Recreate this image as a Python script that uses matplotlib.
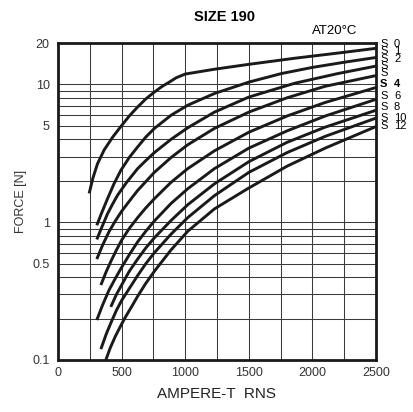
import numpy as np
import matplotlib
matplotlib.use("Agg")
import matplotlib.pyplot as plt
from matplotlib.ticker import FixedLocator, NullFormatter

plt.rcParams['font.family'] = ['Liberation Sans', 'DejaVu Sans']

# curves: ampere-turns vs force [N]
s0_x = [245, 275, 310, 363, 430, 494, 560, 625, 690, 757, 820, 875, 930, 1000, 1230, 1500, 1860, 2200, 2500]
s0_f = [1.62, 2.1, 2.65, 3.35, 4.15, 4.95, 5.9, 6.85, 7.85, 8.8, 9.7, 10.4, 11.2, 11.9, 12.9, 14.0, 15.5, 16.9, 18.3]
s1_x = [305, 340, 389, 440, 494, 560, 626, 690, 757, 889, 1020, 1230, 1500, 1756, 2000, 2250, 2500]
s1_f = [0.95, 1.15, 1.48, 1.9, 2.38, 2.95, 3.52, 4.15, 4.79, 5.98, 7.07, 8.6, 10.4, 12.0, 13.3, 14.5, 15.7]
s2_x = [305, 340, 389, 430, 470, 540, 626, 690, 757, 889, 1020, 1230, 1500, 1860, 2200, 2500]
s2_f = [0.75, 0.9, 1.15, 1.36, 1.58, 1.95, 2.45, 2.8, 3.2, 4.0, 4.85, 6.3, 8.1, 10.2, 12.0, 13.6]
s3_x = [305, 350, 400, 450, 500, 560, 626, 690, 757, 889, 1020, 1230, 1500, 1800, 2100, 2500]
s3_f = [0.54, 0.68, 0.85, 1.02, 1.2, 1.42, 1.7, 1.97, 2.3, 2.95, 3.65, 4.8, 6.3, 8.0, 9.7, 11.6]
s4_x = [337, 380, 420, 460, 500, 560, 626, 690, 757, 889, 1020, 1230, 1500, 1800, 2100, 2500]
s4_f = [0.35, 0.44, 0.53, 0.63, 0.74, 0.9, 1.08, 1.27, 1.48, 1.95, 2.45, 3.3, 4.5, 5.9, 7.4, 9.5]
s6_x = [305, 350, 400, 450, 500, 560, 626, 690, 757, 889, 1020, 1230, 1500, 1800, 2100, 2500]
s6_f = [0.195, 0.25, 0.32, 0.39, 0.47, 0.58, 0.72, 0.86, 1.02, 1.37, 1.75, 2.45, 3.45, 4.6, 5.9, 7.8]
s8_x = [415, 460, 500, 560, 626, 690, 757, 889, 1020, 1230, 1500, 1800, 2100, 2500]
s8_f = [0.243, 0.3, 0.35, 0.44, 0.54, 0.65, 0.77, 1.03, 1.34, 1.9, 2.75, 3.8, 4.9, 6.5]
s10_x = [337, 380, 420, 460, 500, 560, 626, 690, 757, 889, 1020, 1230, 1500, 1800, 2100, 2500]
s10_f = [0.12, 0.155, 0.19, 0.23, 0.27, 0.33, 0.41, 0.5, 0.6, 0.82, 1.08, 1.56, 2.3, 3.2, 4.2, 5.7]
s12_x = [376, 410, 450, 490, 530, 580, 626, 690, 757, 889, 1020, 1230, 1490, 1800, 2100, 2500]
s12_f = [0.1, 0.122, 0.148, 0.175, 0.205, 0.245, 0.29, 0.36, 0.44, 0.63, 0.86, 1.25, 1.75, 2.55, 3.45, 4.95]

curves = [(s0_x, s0_f), (s1_x, s1_f), (s2_x, s2_f), (s3_x, s3_f), (s4_x, s4_f),
          (s6_x, s6_f), (s8_x, s8_f), (s10_x, s10_f), (s12_x, s12_f)]

right_s = ['S', 'S', 'S', 'S', 'S', 'S', 'S', 'S', 'S', 'S']
right_num = ['0', '1', '2', '', '', '4', '6', '8', '10', '12']
label_ypix = [44, 51, 59, 66, 73, 84, 96, 107, 118, 126]

x_ticks = [0, 500, 1000, 1500, 2000, 2500]
y_ticks = [0.1, 0.5, 1, 5, 10, 20]
y_tick_labels = ['0.1', '0.5', '1', '5', '10', '20']
y_grid = [0.2, 0.3, 0.4, 0.5, 0.6, 0.7, 0.8, 0.9, 1, 2, 3, 4, 5, 6, 7, 8, 9, 10]

W, H = 414, 412
fig = plt.figure(figsize=(W / 100, H / 100), dpi=100)
ax = fig.add_axes([58 / W, 1 - 360 / H, (376 - 58) / W, (360 - 43) / H])

ax.set_yscale('log')
ax.set_xlim(0, 2500)
ax.set_ylim(0.1, 20)

for x in np.arange(250, 2500, 250):
    ax.axvline(x, color='#3a3a3a', lw=0.75, zorder=1)
for y in y_grid:
    ax.axhline(y, color='#3a3a3a', lw=0.75, zorder=1)

for xs, fs in curves:
    ax.plot(xs, fs, color='#1a1a1a', lw=2.1, solid_capstyle='butt',
            solid_joinstyle='round', zorder=3)

ax.xaxis.set_major_locator(FixedLocator(x_ticks))
ax.yaxis.set_major_locator(FixedLocator(y_ticks))
ax.yaxis.set_minor_locator(FixedLocator([]))
ax.yaxis.set_minor_formatter(NullFormatter())
ax.set_yticklabels(y_tick_labels)
ax.tick_params(length=0, labelsize=9, colors='#333333')
ax.tick_params(axis='x', pad=5)
ax.tick_params(axis='y', pad=6)
for sp in ax.spines.values():
    sp.set_linewidth(2)
    sp.set_color('#1a1a1a')

ax.set_xlabel('AMPERE-T  RNS', fontsize=11, labelpad=6, color='#222222')
ax.set_ylabel('FORCE [N]', fontsize=9, labelpad=4, color='#333333')

fig.text(225 / W, 1 - 17 / H, 'SIZE 190', fontsize=10.5, fontweight='bold',
         ha='center', va='center')
fig.text(335 / W, 1 - 31 / H, 'AT20°C', fontsize=9.5, ha='center', va='center')
for s, n, yp in zip(right_s, right_num, label_ypix):
    w = 'bold' if n == '4' else 'normal'
    fig.text(380 / W, 1 - yp / H, s, fontsize=8, ha='left', va='center', fontweight=w)
    if n:
        fig.text(394 / W, 1 - yp / H, n, fontsize=8, ha='left', va='center', fontweight=w)

fig.savefig('out.png', dpi=100)
